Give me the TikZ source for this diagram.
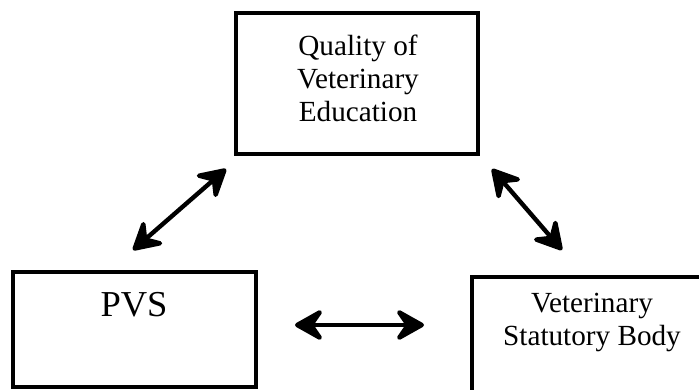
\documentclass[tikz,border=0pt]{standalone}
\usepackage{fontspec}
\setmainfont{Liberation Serif}
\usetikzlibrary{arrows.meta}
\begin{document}
\begin{tikzpicture}[x=1pt,y=-1pt,
  box/.style={draw=black,line width=3.4pt,rectangle,inner sep=0pt},
  lbl/.style={align=center,inner sep=0pt,font=\fontsize{29.2}{33}\selectfont},
  hd/.tip={Stealth[length=34pt,width=38pt,inset=13pt,round]},
  dbl/.style={line width=4.4pt,hd-hd}]
\useasboundingbox (0,0) rectangle (699,390);
\clip (0,0) rectangle (699,390);
\node[box,minimum width=242pt,minimum height=141pt] (edu) at (357,83.5) {};
\node[box,minimum width=243pt,minimum height=115pt] (pvs) at (134.5,329.5) {};
\node[box,minimum width=288pt,minimum height=162pt] (vsb) at (616,358) {};
\node[lbl] (edut) at (358,78) {Quality of\\Veterinary\\Education};
\node[font=\fontsize{36.5}{40}\selectfont,inner sep=0pt] (pvst) at (134,305) {PVS};
\node[lbl] (vsbt) at (592,322) {Veterinary\\Statutory Body};
\coordinate (a1) at (133,250);
\coordinate (a2) at (226,169);
\coordinate (b1) at (492,169);
\coordinate (b2) at (562,250);
\coordinate (c1) at (295,325);
\coordinate (c2) at (424,325);
\draw[dbl] (a1) -- (a2);
\draw[dbl] (b1) -- (b2);
\draw[dbl] (c1) -- (c2);
\end{tikzpicture}
\end{document}
